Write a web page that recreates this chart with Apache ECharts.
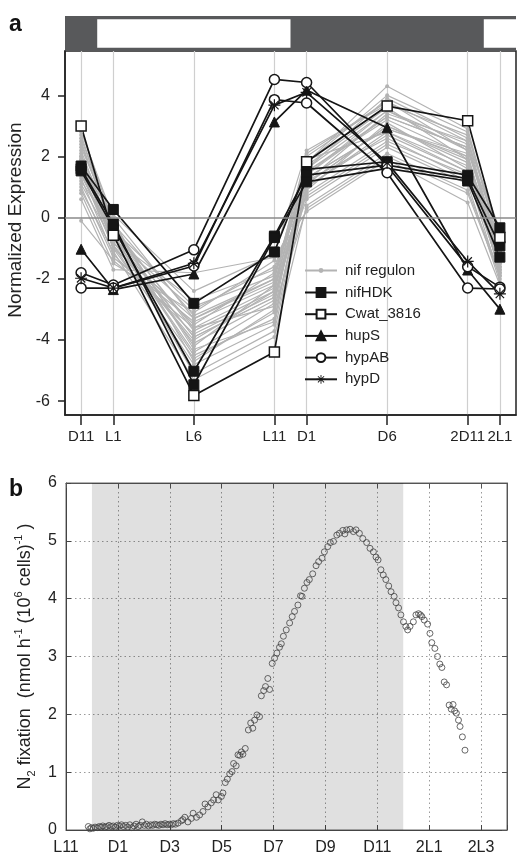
<!DOCTYPE html>
<html>
<head>
<meta charset="utf-8">
<script src="https://cdn.jsdelivr.net/npm/echarts@6/dist/echarts.min.js"></script>
<style>
  html, body { margin: 0; padding: 0; background: #fff; }
  #chart { width: 518px; height: 856px; }
</style>
</head>
<body>
<div id="chart"></div>
<script>
// panel a: sampling times (hours after D11) and their labels
const aHours = [0, 2, 7, 12, 14, 19, 24, 26];
const aLabels = ['D11', 'L1', 'L6', 'L11', 'D1', 'D6', '2D11', '2L1'];
const aYTicks = [-6, -4, -2, 0, 2, 4];
const aLightPeriods = [[1, 13], [25, 27]];

// nif regulon genes (grey)
const nifRegulon = [
  [2.9, -0.2, -3.2, -2.0, 1.6, 3.9, 2.6, -1.2],
  [2.7, -0.4, -3.6, -2.3, 1.8, 4.3, 2.9, -0.9],
  [2.5, -0.5, -3.9, -2.6, 1.4, 3.5, 2.4, -1.5],
  [2.4, -0.3, -4.2, -2.2, 2.0, 3.8, 2.2, -1.1],
  [2.2, -0.6, -4.4, -2.8, 1.5, 3.2, 2.0, -1.6],
  [2.1, -0.8, -3.5, -1.8, 1.2, 3.4, 2.5, -1.3],
  [2.0, -0.1, -4.7, -3.0, 1.7, 3.6, 1.9, -1.8],
  [1.9, -0.7, -3.0, -1.6, 1.1, 3.0, 1.8, -0.8],
  [1.8, -0.9, -4.0, -2.4, 1.3, 2.9, 2.1, -1.9],
  [1.7, -0.5, -5.1, -3.7, 0.9, 3.1, 1.6, -1.4],
  [1.6, 0.1, -2.4, -1.2, 2.2, 3.7, 2.7, -0.6],
  [1.5, -1.0, -3.3, -2.1, 1.0, 2.7, 1.5, -1.7],
  [1.4, -0.6, -4.5, -3.3, 1.5, 3.3, 2.3, -1.0],
  [1.3, -1.2, -3.8, -2.5, 0.8, 2.5, 1.4, -2.0],
  [1.2, -0.4, -2.9, -1.9, 1.9, 2.8, 1.7, -1.2],
  [1.1, -0.8, -4.1, -2.7, 1.2, 2.6, 1.3, -1.5],
  [1.0, -1.3, -3.4, -2.2, 0.6, 2.3, 1.1, -2.1],
  [0.9, -1.1, -5.3, -3.9, 0.4, 2.1, 0.9, -1.8],
  [0.8, -1.5, -3.1, -1.4, 0.7, 2.4, 1.2, -0.7],
  [0.6, -1.7, -1.8, -1.3, 0.2, 1.9, 0.5, -2.2],
  [-0.1, -1.4, -3.6, -2.9, 0.3, 2.0, 0.8, -1.9],
  [2.3, -0.2, -4.3, -3.4, 1.6, 3.5, 2.2, -0.5],
  [2.6, -0.3, -3.7, -2.4, 1.8, 4.0, 2.8, -1.0],
  [1.9, -0.9, -4.8, -3.5, 1.1, 3.0, 1.9, -1.6],
  [1.4, -0.7, -2.7, -1.7, 1.3, 2.9, 2.0, -1.3],
  [2.8, 0.0, -3.3, -2.0, 2.1, 3.8, 2.5, -0.4],
  [1.6, -1.0, -4.6, -3.1, 1.0, 2.8, 1.5, -1.7],
  [2.0, -0.6, -3.9, -2.6, 1.4, 3.3, 2.3, -1.1]
];

const nifHDK = [
  [1.69, 0.27, -2.80, -1.12, 1.58, 1.83, 1.39, -0.33],
  [1.53, -0.33, -5.02, -0.60, 1.39, 1.72, 1.28, -0.92],
  [1.60, -0.20, -5.46, -0.65, 1.17, 1.61, 1.20, -1.29]
];
const cwat3816 = [3.00, -0.57, -5.81, -4.39, 1.83, 3.65, 3.17, -0.65];
const hupS = [-1.03, -2.35, -1.84, 3.13, 4.17, 2.94, -1.71, -2.99];
const hypAB = [
  [-1.80, -2.20, -1.05, 4.52, 4.42, 1.70, -1.60, -2.27],
  [-2.30, -2.30, -1.58, 3.86, 3.75, 1.47, -2.30, -2.33]
];
const hypD = [-1.98, -2.30, -1.49, 3.68, 4.10, 1.80, -1.43, -2.49];

// panel b: hours after L11 and N2 fixation rate
const bTickHours = [0, 2, 4, 6, 8, 10, 12, 14, 16];
const bTickLabels = ['L11', 'D1', 'D3', 'D5', 'D7', 'D9', 'D11', '2L1', '2L3'];
const bDarkPeriod = [1, 13];
const fixHours = [
  0.86, 0.92, 0.98, 1.05, 1.12, 1.20, 1.28, 1.35, 1.42, 1.50, 1.58, 1.66, 1.74, 1.82, 1.90,
  1.98, 2.06, 2.14, 2.22, 2.30, 2.38, 2.46, 2.54, 2.62, 2.70, 2.78, 2.86, 2.94, 3.02, 3.10,
  3.18, 3.26, 3.34, 3.42, 3.50, 3.58, 3.66, 3.74, 3.82, 3.90, 3.98, 4.06, 4.14, 4.22,
  4.32, 4.45, 4.51, 4.58, 4.70, 4.83, 4.90, 5.03, 5.15, 5.28, 5.36, 5.47, 5.60, 5.69, 5.79,
  5.87, 5.99, 6.05, 6.14, 6.22, 6.31, 6.40, 6.46, 6.56, 6.63, 6.70, 6.76, 6.82, 6.91, 7.03,
  7.12, 7.20, 7.27, 7.36, 7.46, 7.53, 7.62, 7.69, 7.78, 7.85, 7.95, 8.04, 8.13, 8.23, 8.30,
  8.38, 8.49, 8.62, 8.72, 8.81, 8.94, 9.04, 9.10, 9.19, 9.29, 9.38, 9.51, 9.64, 9.74, 9.87,
  9.96, 10.09, 10.19, 10.31, 10.44, 10.54, 10.67, 10.75, 10.82, 10.95, 11.08, 11.18, 11.31,
  11.44, 11.59, 11.72, 11.85, 11.95, 12.03, 12.14, 12.23, 12.33, 12.44, 12.53, 12.65, 12.72,
  12.82, 12.91, 13.01, 13.10, 13.17, 13.26, 13.39, 13.49, 13.59, 13.66, 13.72, 13.81, 13.94,
  14.03, 14.10, 14.22, 14.32, 14.41, 14.49, 14.58, 14.67, 14.77, 14.85, 14.92, 14.98, 15.05,
  15.13, 15.19, 15.28, 15.38
];
const fixRates = [
  0.06, 0.02, 0.04, 0.03, 0.05, 0.04, 0.06, 0.05, 0.07, 0.05, 0.06, 0.08, 0.06, 0.07, 0.05,
  0.08, 0.07, 0.09, 0.06, 0.08, 0.05, 0.09, 0.04, 0.07, 0.10, 0.06, 0.08, 0.14, 0.08, 0.10,
  0.07, 0.09, 0.08, 0.10, 0.09, 0.08, 0.10, 0.09, 0.11, 0.09, 0.10, 0.09, 0.11, 0.10,
  0.12, 0.16, 0.18, 0.22, 0.14, 0.20, 0.29, 0.22, 0.26, 0.32, 0.45, 0.40, 0.47, 0.52, 0.61,
  0.52, 0.58, 0.64, 0.82, 0.88, 0.97, 1.01, 1.15, 1.11, 1.30, 1.29, 1.35, 1.31, 1.41, 1.73,
  1.85, 1.76, 1.90, 1.99, 1.96, 2.32, 2.41, 2.48, 2.62, 2.43, 2.88, 2.97, 3.06, 3.16, 3.22,
  3.35, 3.46, 3.58, 3.69, 3.78, 3.89, 4.05, 4.04, 4.18, 4.28, 4.33, 4.43, 4.57, 4.64, 4.70,
  4.81, 4.90, 4.97, 4.99, 5.10, 5.13, 5.18, 5.12, 5.19, 5.20, 5.16, 5.19, 5.13,
  5.04, 4.97, 4.87, 4.81, 4.72, 4.67, 4.50, 4.41, 4.33, 4.22, 4.12, 4.04, 3.93,
  3.84, 3.72, 3.60, 3.52, 3.46, 3.52, 3.60, 3.72, 3.74, 3.72, 3.69, 3.63, 3.56,
  3.40, 3.24, 3.14, 3.00, 2.87, 2.81, 2.56, 2.51, 2.16, 2.09, 2.17, 2.06, 2.02,
  1.90, 1.79, 1.61, 1.38
];

const FONT = 'Liberation Sans, Arial, Helvetica, sans-serif';
const GREY = '#b3b3b3';
const BLACK = '#151515';
const STAR = 'path://M-1,-10L1,-10L1,10L-1,10Z M-10,-1L10,-1L10,1L-10,1Z ' +
  'M-6.3,-7.7L7.7,6.3L6.3,7.7L-7.7,-6.3Z M6.3,-7.7L7.7,-6.3L-6.3,7.7L-7.7,6.3Z';

const toPoints = vals => aHours.map((h, i) => [h, vals[i]]);

const series = [];

nifRegulon.forEach((vals, i) => {
  const s = {
    name: 'nif regulon', type: 'line', xAxisIndex: 0, yAxisIndex: 0,
    data: toPoints(vals),
    symbol: 'circle', symbolSize: 4,
    lineStyle: { color: GREY, width: 1.2 },
    itemStyle: { color: GREY },
    silent: true, animation: false
  };
  if (i === 0) {
    s.markLine = {
      silent: true, symbol: 'none', label: { show: false },
      lineStyle: { color: '#8a8a8a', width: 1.6, type: 'solid' },
      data: [{ yAxis: 0 }]
    };
  }
  series.push(s);
});

function blackLine(name, vals, symbol, size, hollow) {
  return {
    name: name, type: 'line', xAxisIndex: 0, yAxisIndex: 0,
    data: toPoints(vals),
    symbol: symbol, symbolSize: size,
    lineStyle: { color: BLACK, width: 1.7 },
    itemStyle: hollow
      ? { color: '#fff', borderColor: BLACK, borderWidth: 1.5 }
      : { color: BLACK, borderColor: BLACK, borderWidth: symbol === STAR ? 0 : 1 },
    animation: false
  };
}

nifHDK.forEach(v => series.push(blackLine('nifHDK', v, 'rect', 10, false)));
series.push(blackLine('Cwat_3816', cwat3816, 'rect', 10, true));
series.push(blackLine('hupS', hupS, 'triangle', 10, false));
hypAB.forEach(v => series.push(blackLine('hypAB', v, 'circle', 10, true)));
series.push(blackLine('hypD', hypD, STAR, 12, false));

// light/dark bar above panel a
series.push({
  type: 'line', xAxisIndex: 1, yAxisIndex: 1, data: [], silent: true,
  markArea: {
    silent: true,
    itemStyle: { color: '#fff' },
    data: aLightPeriods.map(p => [{ xAxis: p[0], yAxis: 0.09 }, { xAxis: p[1], yAxis: 0.91 }])
  }
});

// panel b scatter
series.push({
  type: 'scatter', xAxisIndex: 2, yAxisIndex: 2,
  data: fixHours.map((h, i) => [h, fixRates[i]]),
  symbol: 'circle', symbolSize: 6,
  itemStyle: { color: 'rgba(0,0,0,0)', borderColor: '#444', borderWidth: 1 },
  markArea: {
    silent: true,
    itemStyle: { color: 'rgba(0,0,0,0.12)' },
    data: [[{ xAxis: bDarkPeriod[0] }, { xAxis: bDarkPeriod[1] }]]
  },
  animation: false
});

const legendBase = {
  orient: 'vertical', left: 299,
  itemWidth: 32, itemGap: 6.7,
  selectedMode: false,
  textStyle: { fontSize: 15, color: '#222', fontFamily: FONT, padding: [0, 0, 0, 3] }
};

const chart = echarts.init(document.getElementById('chart'));
chart.setOption({
  animation: false,
  textStyle: { fontFamily: FONT },
  graphic: [
    { type: 'text', left: 9, top: 13, style: { text: 'a', font: 'bold 23px ' + FONT, fill: '#111' } },
    { type: 'text', left: 9, top: 478, style: { text: 'b', font: 'bold 23px ' + FONT, fill: '#111' } }
  ],
  legend: [
    Object.assign({}, legendBase, { data: ['nif regulon'], top: 258, itemHeight: 6 }),
    Object.assign({}, legendBase, {
      data: ['nifHDK', 'Cwat_3816', 'hupS', 'hypAB', 'hypD'], top: 280, itemHeight: 11
    })
  ],
  grid: [
    { left: 65, top: 51, width: 451, height: 364, show: true, borderColor: '#222', borderWidth: 1.5,
      backgroundColor: 'transparent', outerBoundsMode: 'none' },
    { left: 65, top: 16, width: 451, height: 35, show: true, backgroundColor: '#58595b',
      borderColor: '#58595b', borderWidth: 0, outerBoundsMode: 'none' },
    { left: 66, top: 483, width: 441, height: 347, show: true, borderColor: '#666', borderWidth: 1,
      backgroundColor: 'transparent', outerBoundsMode: 'none' }
  ],
  xAxis: [
    {
      gridIndex: 0, type: 'value', min: -1, max: 27,
      axisLine: { show: true, onZero: false, lineStyle: { color: '#222', width: 1.5 } },
      axisTick: { show: true, customValues: aHours, length: 10, lineStyle: { color: '#222', width: 1.5 } },
      axisLabel: {
        customValues: aHours, margin: 14, fontSize: 15, color: '#222',
        formatter: v => aLabels[aHours.indexOf(v)] || ''
      },
      splitLine: { show: true, lineStyle: { color: '#cfcfcf', width: 1.2 } }
    },
    { gridIndex: 1, type: 'value', min: -1, max: 27, show: false },
    {
      gridIndex: 2, type: 'value', min: 0, max: 17, interval: 2,
      axisLine: { show: true, onZero: false, lineStyle: { color: '#444', width: 1 } },
      axisTick: { show: true, inside: true, length: 5, lineStyle: { color: '#444' } },
      axisLabel: {
        margin: 10, fontSize: 16, color: '#222',
        formatter: v => { const i = bTickHours.indexOf(v); return i >= 0 ? bTickLabels[i] : ''; }
      },
      splitLine: { show: true, lineStyle: { color: '#9a9a9a', width: 1, type: [1.5, 3] } }
    },
    {
      gridIndex: 2, type: 'value', min: 0, max: 17, interval: 2, position: 'top',
      axisLine: { show: true, onZero: false, lineStyle: { color: '#555', width: 1 } },
      axisTick: { show: true, inside: true, length: 5, lineStyle: { color: '#555' } },
      axisLabel: { show: false }, splitLine: { show: false }
    }
  ],
  yAxis: [
    {
      gridIndex: 0, type: 'value', min: -6.45, max: 5.45,
      axisLine: { show: true, onZero: false, lineStyle: { color: '#222', width: 1.5 } },
      axisTick: { show: true, customValues: aYTicks, length: 7, lineStyle: { color: '#222', width: 1.5 } },
      axisLabel: { customValues: aYTicks, margin: 15, fontSize: 16, color: '#222' },
      splitLine: { show: false },
      name: 'Normalized Expression', nameLocation: 'middle', nameRotate: 90, nameGap: 36,
      nameTextStyle: { fontSize: 19, color: '#222', padding: [0, 0, 0, 26] }
    },
    { gridIndex: 1, type: 'value', min: 0, max: 1, show: false },
    {
      gridIndex: 2, type: 'value', min: 0, max: 6, interval: 1,
      axisLine: { show: true, onZero: false, lineStyle: { color: '#444', width: 1 } },
      axisTick: { show: true, inside: true, length: 5, lineStyle: { color: '#444' } },
      axisLabel: { margin: 9, fontSize: 16, color: '#222' },
      splitLine: { show: true, lineStyle: { color: '#9a9a9a', width: 1, type: [1.5, 3] } },
      name: '{n|N}{sub|2}{n| fixation  (nmol h}{sup|-1}{n| (10}{sup|6}{n| cells)}{sup|-1}{n| )}',
      nameLocation: 'middle', nameRotate: 90, nameGap: 26,
      nameTextStyle: {
        color: '#222',
        rich: {
          n: { fontSize: 18, lineHeight: 24, color: '#222', fontFamily: FONT },
          sub: { fontSize: 11, lineHeight: 13, verticalAlign: 'bottom', color: '#222', fontFamily: FONT },
          sup: { fontSize: 11, lineHeight: 13, verticalAlign: 'top', color: '#222', fontFamily: FONT }
        }
      }
    },
    {
      gridIndex: 2, type: 'value', min: 0, max: 6, interval: 1, position: 'right',
      axisLine: { show: true, onZero: false, lineStyle: { color: '#555', width: 1 } },
      axisTick: { show: true, inside: true, length: 5, lineStyle: { color: '#555' } },
      axisLabel: { show: false }, splitLine: { show: false }
    }
  ],
  series: series
});
</script>
</body>
</html>
